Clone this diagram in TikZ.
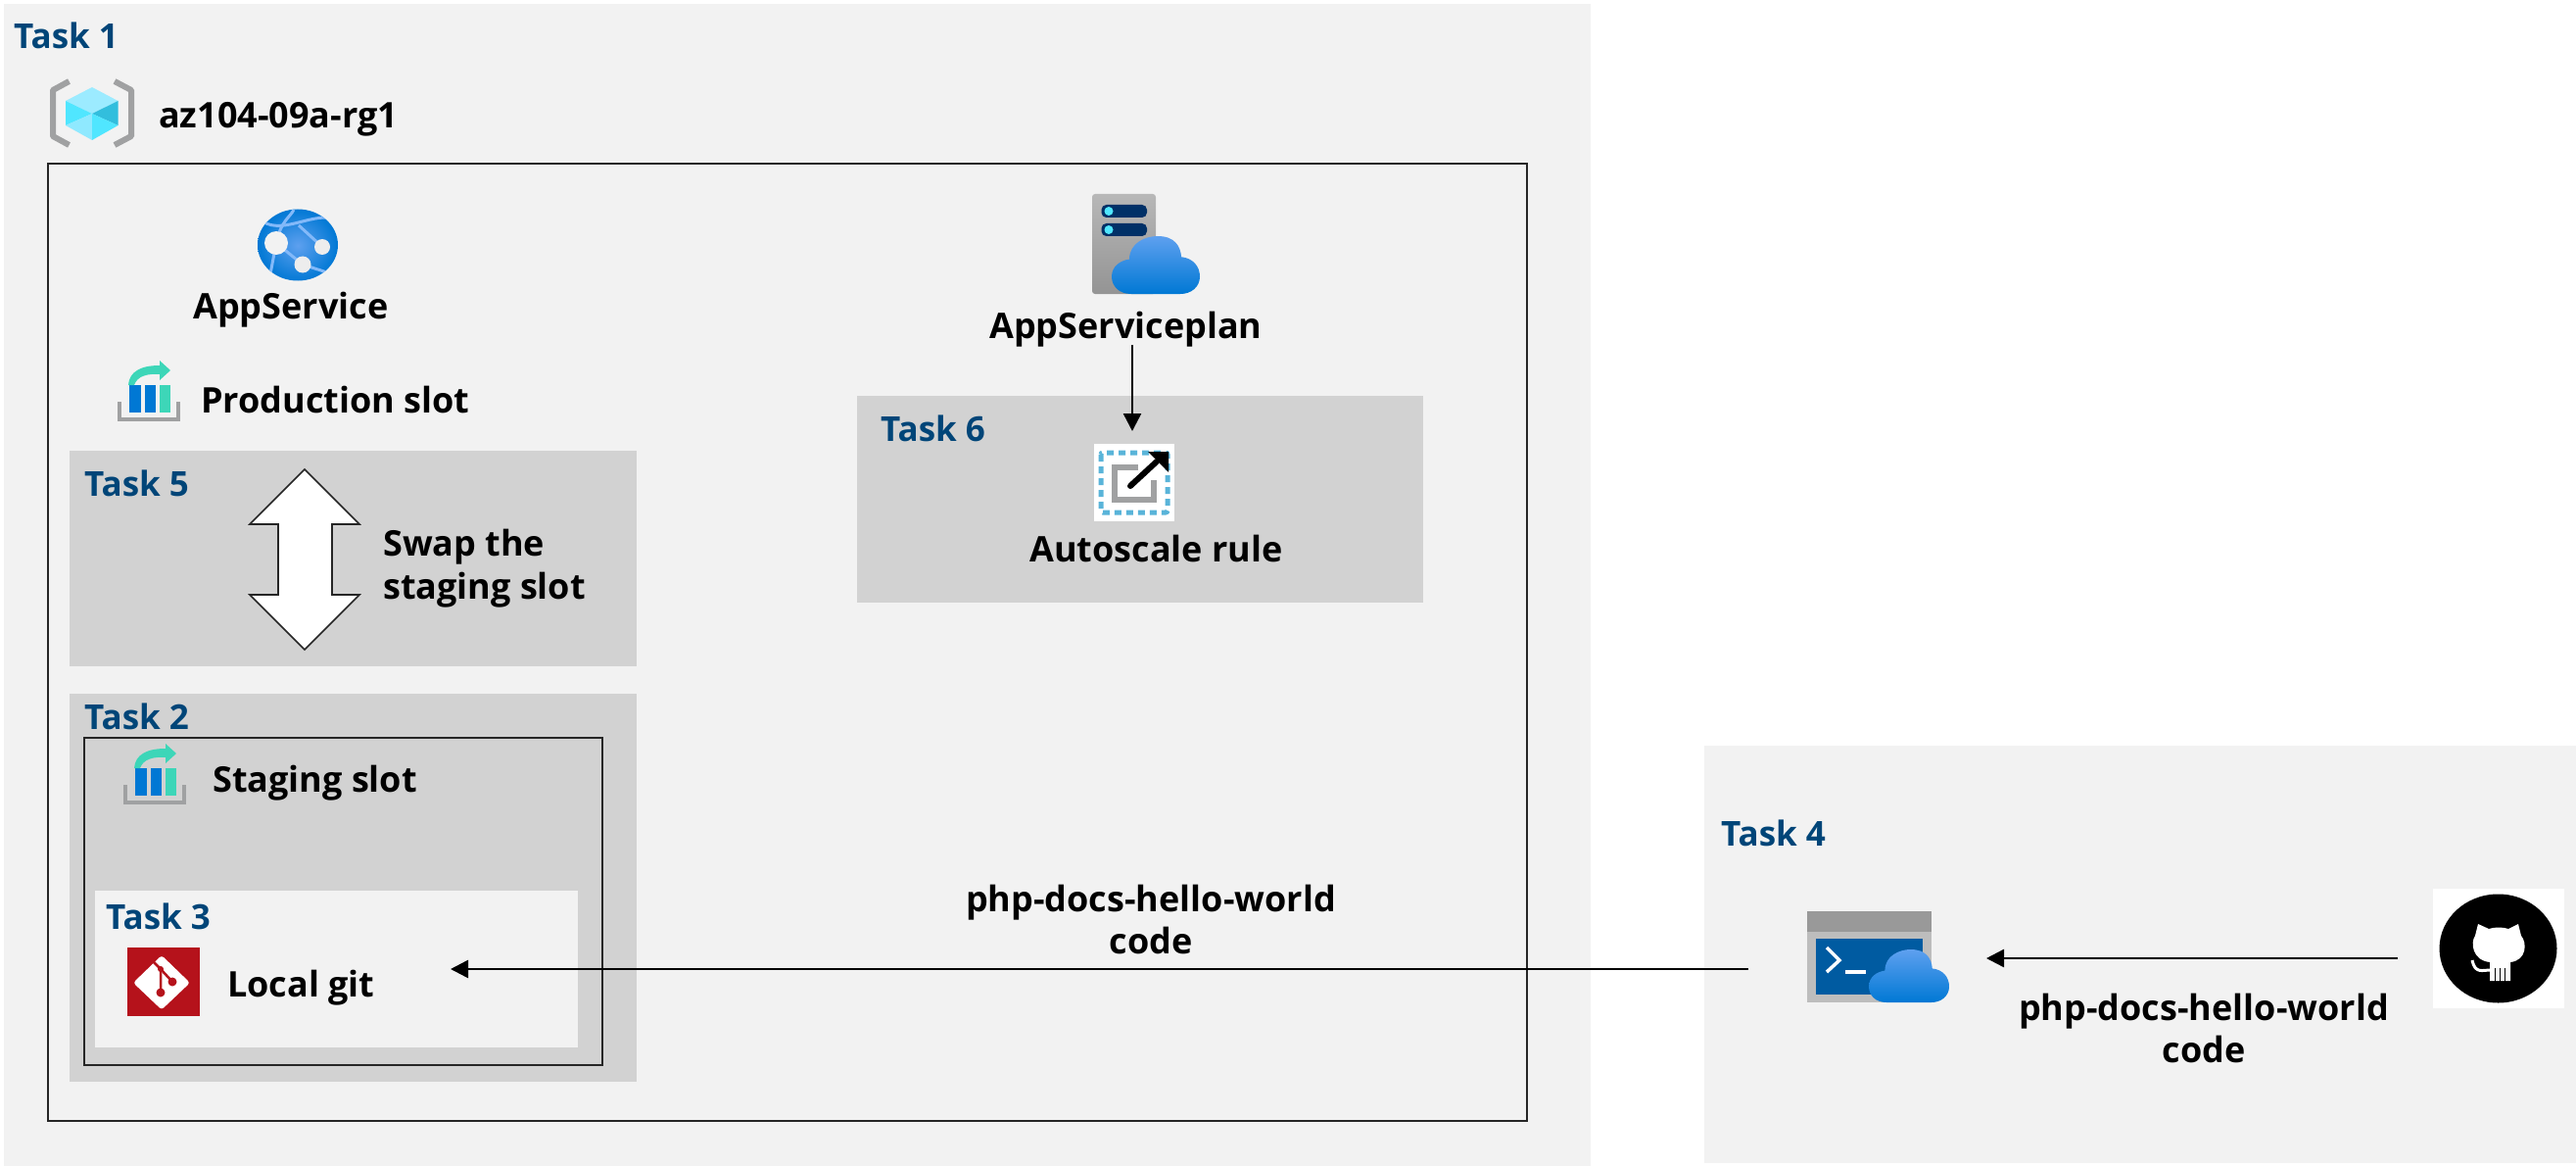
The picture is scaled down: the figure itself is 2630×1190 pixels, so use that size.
\documentclass[tikz,border=0pt]{standalone}
\usepackage{fontspec}
\setmainfont{Open Sans}
\usetikzlibrary{arrows.meta,shapes.geometric}
\definecolor{panel}{HTML}{F2F2F2}
\definecolor{graybox}{HTML}{D2D2D2}
\definecolor{taskblue}{HTML}{004578}
\definecolor{azure}{HTML}{0078D4}
\definecolor{azurelight}{HTML}{5EA0EF}
\definecolor{teal}{HTML}{3DD6B8}
\definecolor{bracket}{HTML}{A0A1A2}
\definecolor{cubetop}{HTML}{9CEBFF}
\definecolor{cubemid}{HTML}{50E6FF}
\definecolor{cubedark}{HTML}{32BEDD}
\definecolor{cubelow}{HTML}{8FE9FF}
\definecolor{globeline}{HTML}{83B9F9}
\definecolor{globedot}{HTML}{EDEDED}
\definecolor{servernavy}{HTML}{003067}
\definecolor{dashblue}{HTML}{59B4D9}
\definecolor{gitred}{HTML}{B5121B}
\definecolor{termbody}{HTML}{BDBDBD}
\definecolor{termbar}{HTML}{999999}
\definecolor{termblue}{HTML}{005BA1}
\tikzset{
  panelbox/.style={fill=panel,draw=none},
  grayarea/.style={fill=graybox,draw=none},
  framebox/.style={draw=black!85,line width=2.5pt,fill=none},
  tasklabel/.style={anchor=base west,inner sep=0pt,text=taskblue,font=\fontsize{35}{42}\selectfont\bfseries},
  lbl/.style={anchor=base west,inner sep=0pt,text=black,font=\fontsize{36}{43}\selectfont\bfseries},
  lblm/.style={anchor=center,inner sep=0pt,align=center,text=black,font=\fontsize{36}{43}\selectfont\bfseries},
  lbll/.style={anchor=west,inner sep=0pt,align=left,text=black,font=\fontsize{36}{44}\selectfont\bfseries},
  conn/.style={draw=black,line width=2.5pt,-{Triangle[length=18pt,width=18pt]}},
}
\newcommand{\cloudicon}[4]{%
  \begin{scope}[shift={(#1,#2)},x=#3pt,y=-#4pt]
  \shade[top color=azurelight,bottom color=azure]
    (0.22,1) .. controls (0.08,1) and (0,0.86) .. (0,0.7)
    .. controls (0,0.52) and (0.1,0.42) .. (0.2,0.4)
    .. controls (0.2,0.12) and (0.38,0) .. (0.52,0)
    .. controls (0.72,0) and (0.78,0.18) .. (0.79,0.36)
    .. controls (0.92,0.38) and (1,0.52) .. (1,0.7)
    .. controls (1,0.88) and (0.9,1) .. (0.78,1) -- cycle;
  \end{scope}}
\newcommand{\sloticon}[2]{%
  \begin{scope}[shift={(#1,#2)}]
  \draw[bracket,line width=4pt] (2,42) -- (2,60) -- (62,60) -- (62,42);
  \fill[azure] (12,25) rectangle (24,53);
  \fill[azure] (28,25) rectangle (39,53);
  \fill[teal] (43,25) rectangle (54,53);
  \fill[teal] (11,25) .. controls (12,11) and (24,5) .. (43,5) -- (43,0) -- (54,10) -- (43,20)
     -- (43,14) .. controls (30,13) and (20,16) .. (17,25) -- cycle;
  \end{scope}}
\begin{document}
\begin{tikzpicture}[x=1pt,y=-1pt]
\useasboundingbox (0,0) rectangle (2630,1190);
\fill[white] (0,0) rectangle (2630,1190);
% panels
\path[panelbox] (4,4) rectangle (1624,1190);
\path[panelbox] (1740,761) rectangle (2630,1187);
\draw[framebox] (49,167) rectangle (1559,1144);
\path[grayarea] (71,460) rectangle (650,680);
\path[grayarea] (71,708) rectangle (650,1104);
\path[grayarea] (875,404) rectangle (1453,615);
\draw[framebox] (86,753) rectangle (615,1087);
\path[panelbox] (97,909) rectangle (590,1069);

% task labels
\node[tasklabel] (task1) at (14,50) {Task 1};
\node[tasklabel] (task5) at (86,506) {Task 5};
\node[tasklabel] (task2) at (86,744) {Task 2};
\node[tasklabel] (task3) at (108,948) {Task 3};
\node[tasklabel] (task6) at (899,450) {Task 6};
\node[tasklabel] (task4) at (1757,863) {Task 4};

% labels
\node[lbl] (rg) at (162,131) {az104-09a-rg1};
\node[lbl] (appservice) at (197,325) {AppService};
\node[lbl] (prod) at (205,421) {Production slot};
\node[lbl] (staging) at (217,808) {Staging slot};
\node[lbl] (localgit) at (232,1017) {Local git};
\node[lbl] (plan) at (1010,345) {AppServiceplan};
\node[lbl] (autoscale) at (1051,573) {Autoscale rule};
\node[lbll] (swap) at (391,580) {Swap the\\staging slot};
\node[lblm] (code1) at (1175,938) {php-docs-hello-world\\code};
\node[lblm] (code2) at (2250,1049) {php-docs-hello-world\\code};

% resource group icon
\draw[bracket,line width=6pt,line join=round] (70.5,83) -- (54,92) -- (54,139) -- (70.5,148);
\draw[bracket,line width=6pt,line join=round] (117,83) -- (134,92) -- (134,139) -- (117,148);
\fill[cubetop] (94,89) -- (120.5,103) -- (94,116) -- (67,103) -- cycle;
\fill[cubemid] (67,103) -- (94,116) -- (67,128) -- cycle;
\fill[cubedark] (120.5,103) -- (94,116) -- (120.5,128) -- cycle;
\fill[cubelow] (67,128) -- (94,116) -- (94,143) -- cycle;
\fill[cubemid] (120.5,128) -- (94,116) -- (94,143) -- cycle;

% app service globe
\begin{scope}
\clip (304,250) ellipse [x radius=41,y radius=36.5];
\shade[inner color=azurelight,outer color=azure] (263,213) rectangle (345,288);
\draw[globeline,line width=3pt] (268,226) .. controls (290,240) and (320,215) .. (345,224);
\draw[globeline,line width=3pt] (282,248) .. controls (287,225) and (296,222) .. (300,214);
\draw[globeline,line width=3pt] (305,230) -- (329,252);
\draw[globeline,line width=3pt] (275,285) -- (282,248) -- (309,270) -- (340,280);
\end{scope}
\fill[panel] (282,248) circle (12);
\fill[globedot] (329,252) circle (8);
\fill[globedot] (309,270) circle (8.5);

% slot icons
\sloticon{120}{368}
\sloticon{126}{759}

% server + cloud
\shade[top color=black!28,bottom color=black!42,rounded corners=3pt] (1115,198) rectangle (1180,300);
\fill[servernavy,rounded corners=5pt] (1124.5,209) rectangle (1171,222);
\fill[servernavy,rounded corners=5pt] (1124.5,228) rectangle (1171,241);
\fill[cubemid] (1132,215.5) circle (4.5);
\fill[cubemid] (1132,234.5) circle (4.5);
\cloudicon{1135}{241}{90}{59}

% autoscale icon
\fill[white] (1117,453) rectangle (1199,532);
\draw[dashblue,line width=5pt,dash pattern=on 7pt off 5pt,rounded corners=2pt] (1124,462) rectangle (1192,523);
\draw[bracket,line width=6pt] (1162,477) -- (1138,477) -- (1138,510) -- (1178,510) -- (1178,490);
\draw[black,line width=6pt,line cap=round] (1154,496) -- (1181,471);
\fill[black] (1193,461) -- (1193,482) -- (1172,461) -- cycle;

% git icon
\fill[gitred] (129.5,967) rectangle (203.5,1037);
\fill[white,rounded corners=3pt] (165,975) -- (194,1003) -- (165,1030.5) -- (136,1003) -- cycle;
\draw[gitred,line width=2.5pt] (153,978) -- (164,989) -- (164,1013);
\draw[gitred,line width=2.5pt] (164,989) -- (176,1002);
\fill[gitred] (164,989) circle (3);
\fill[gitred] (164,1013) circle (4.5);
\fill[gitred] (176,1002) circle (4.5);

% terminal icon
\fill[termbody] (1845,930) rectangle (1972,1023);
\fill[termbar] (1845,930) rectangle (1972,951);
\fill[termblue] (1854,958) rectangle (1963,1015);
\draw[white,line width=3.5pt] (1865,967) -- (1878,980) -- (1865,992);
\draw[white,line width=3.5pt] (1884,992) -- (1905,992);
\cloudicon{1908}{969}{82}{54}

% github icon
\fill[white] (2484,907) rectangle (2618,1029);
\fill[black] (2550.5,968) ellipse [x radius=60,y radius=55.5];
\fill[white] (2530,943) -- (2541,948) .. controls (2547,946) and (2555,946) .. (2561,948) -- (2571,943)
  -- (2574,955) .. controls (2580,962) and (2580,980) .. (2563,982) -- (2563,1001) -- (2542,1001) -- (2542,982)
  .. controls (2524,980) and (2522,962) .. (2527,955) -- cycle;
\draw[white,line width=3pt] (2524,980) .. controls (2527,994) and (2534,990) .. (2543,990);
\draw[black,line width=1.4pt] (2547.5,988) -- (2547.5,1002) (2552.5,988) -- (2552.5,1002) (2557.5,988) -- (2557.5,1002);

% swap arrow
\draw[draw=black!85,fill=white,line width=1.6pt,line join=miter] (311,479) -- (367,535) -- (339,535) -- (339,607) -- (367,607)
  -- (311,663) -- (255,607) -- (284,607) -- (284,535) -- (255,535) -- cycle;

% connectors
\coordinate (termout) at (1785,989);
\coordinate (gitin) at (460,989);
\coordinate (ghout) at (2448,978);
\coordinate (termin) at (2028,978);
\coordinate (planout) at (1156,352);
\coordinate (scalein) at (1156,440);
\draw[conn] (termout) -- (gitin);
\draw[conn] (ghout) -- (termin);
\draw[conn] (planout) -- (scalein);
\end{tikzpicture}
\end{document}
